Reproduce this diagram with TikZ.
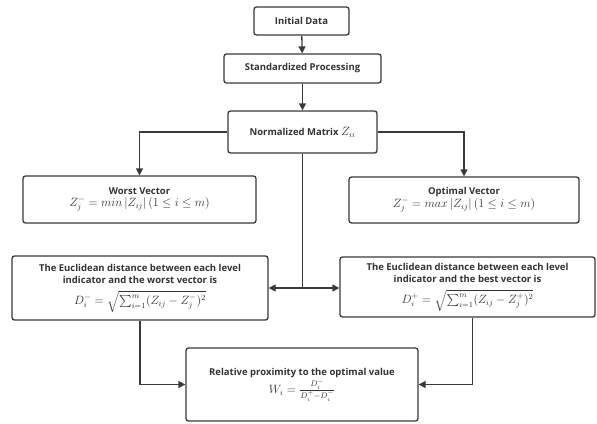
\documentclass[tikz,border=0pt]{standalone}
\usepackage{amsmath}
\usepackage{fontspec}
\setmainfont{Open Sans}
\usetikzlibrary{arrows.meta}
\definecolor{linegray}{HTML}{3A3A3A}
\definecolor{textgray}{HTML}{333333}
\tikzset{
  flowbox/.style={draw=linegray, line width=1.3pt, rounded corners=2.5pt, fill=white,
    align=center, text=textgray, font=\fontsize{9.5}{12}\selectfont\bfseries, inner sep=2pt},
  flow/.style={draw=linegray, line width=1.3pt, -{Triangle[length=7pt,width=7pt]}},
}
\newcommand{\fml}[1]{{\fontsize{11.5}{13}\selectfont\mdseries $#1$}}
\begin{document}
\begin{tikzpicture}[x=1pt,y=-1pt]
\useasboundingbox (0,0) rectangle (597,423);
% top chain
\node[flowbox, minimum width=95, minimum height=28] (init) at (301.5,21) {Initial Data};
\node[flowbox, minimum width=157, minimum height=29] (std) at (302.5,68.5) {Standardized Processing};
\node[flowbox, minimum width=149, minimum height=42] (norm) at (302.5,132) {Normalized Matrix \fml{Z_{ii}}};
% vectors
\node[flowbox, minimum width=233, minimum height=47] (worst) at (139.5,199.5)
  {Worst Vector\\ \fml{Z_j^- = min\left|Z_{ij}\right|(1\le i\le m)}};
\node[flowbox, minimum width=230, minimum height=46] (optimal) at (464,200)
  {Optimal Vector\\ \fml{Z_j^- = max\left|Z_{ij}\right|(1\le i\le m)}};
% distances
\node[flowbox, minimum width=256, minimum height=64] (eucL) at (140,288)
  {The Euclidean distance between each level\\indicator and the worst vector is\\[6pt]
   \fml{D_i^- = \sqrt{\textstyle\sum_{i=1}^{m}(Z_{ij}-Z_j^-)^2}}};
\node[flowbox, minimum width=255, minimum height=60] (eucR) at (467.5,287)
  {The Euclidean distance between each level\\indicator and the best vector is\\[6pt]
   \fml{D_i^+ = \sqrt{\textstyle\sum_{i=1}^{m}(Z_{ij}-Z_j^+)^2}}};
% result
\node[flowbox, minimum width=232, minimum height=73] (rel) at (302,384.5)
  {Relative proximity to the optimal value\\[1pt] \fml{W_i = \tfrac{D_i^-}{D_i^+ - D_i^-}}};

\coordinate (split) at (norm.south |- eucL.east);
\draw[flow] (init) -- (std);
\draw[flow] (std) -- (norm);
\draw[flow] (norm.west) -| (worst.north);
\draw[flow] (norm.east) -| (optimal.north);
\draw[draw=linegray, line width=1.3pt] (norm.south) -- (split);
\draw[flow] (split) -- (eucL.east);
\draw[flow] (split) -- (eucR.west |- split);
\draw[flow] (eucL.south) |- (rel.west);
\draw[flow] ([xshift=5pt]eucR.south) |- (rel.east);
\end{tikzpicture}
\end{document}
